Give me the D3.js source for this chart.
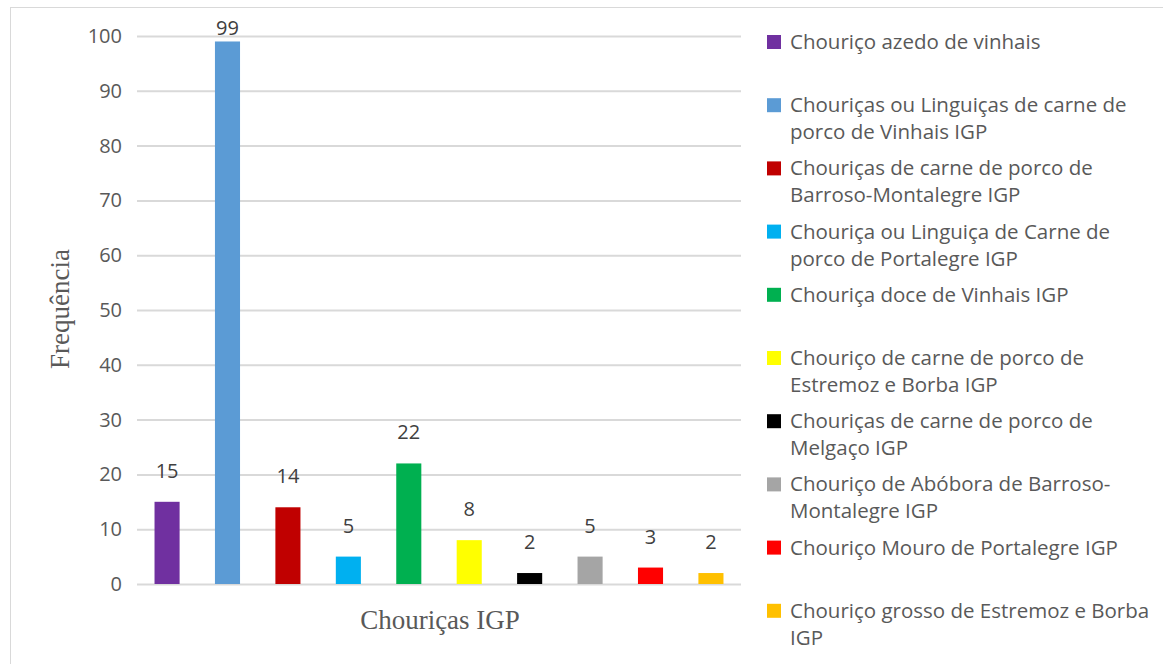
<!DOCTYPE html>
<html>
<head>
<meta charset="utf-8">
<script src="https://cdn.jsdelivr.net/npm/d3@7"></script>
<style>
  body { margin: 0; background: #fff; }
  svg { display: block; }
</style>
</head>
<body>
<svg id="chart" width="1163" height="664"></svg>
<script>
// data
const categories = [
  "Chouriço azedo de vinhais",
  "Chouriças ou Linguiças de carne de\nporco de Vinhais IGP",
  "Chouriças de carne de porco de\nBarroso-Montalegre IGP",
  "Chouriça ou Linguiça de Carne de\nporco de Portalegre IGP",
  "Chouriça doce de Vinhais IGP",
  "Chouriço de carne de porco de\nEstremoz e Borba IGP",
  "Chouriças de carne de porco de\nMelgaço IGP",
  "Chouriço de Abóbora de Barroso-\nMontalegre IGP",
  "Chouriço Mouro de Portalegre IGP",
  "Chouriço grosso de Estremoz e Borba\nIGP"
];
const values = [15, 99, 14, 5, 22, 8, 2, 5, 3, 2];
const colors = ["#7030a0", "#5b9bd5", "#c00000", "#00b0f0", "#00b050",
                "#ffff00", "#000000", "#a5a5a5", "#ff0000", "#ffc000"];
const yTicks = [0, 10, 20, 30, 40, 50, 60, 70, 80, 90, 100];

const svg = d3.select("#chart");
const sans = "'Open Sans', sans-serif";
const serif = "'Liberation Serif', 'Times New Roman', serif";
const textColor = "#595959";

// chart border
svg.append("rect")
  .attr("x", 10.5).attr("y", 7.5)
  .attr("width", 1160).attr("height", 670)
  .attr("fill", "none").attr("stroke", "#d9d9d9");

const margin = { left: 137, right: 741, top: 36, bottom: 584 };

const x = d3.scaleBand()
  .domain(d3.range(categories.length))
  .range([margin.left, margin.right])
  .paddingInner(0.585).paddingOuter(0.29);

const y = d3.scaleLinear().domain([0, 100]).range([margin.bottom, margin.top]);

// gridlines + tick labels
const yAxis = d3.axisLeft(y).tickValues(yTicks)
  .tickSize(-(margin.right - margin.left)).tickPadding(15);
const gy = svg.append("g")
  .attr("transform", `translate(${margin.left},0)`)
  .call(yAxis);
gy.select(".domain").remove();
gy.selectAll(".tick line").attr("stroke", "#d9d9d9").attr("stroke-width", 2);
gy.selectAll(".tick text")
  .attr("fill", textColor).style("font-family", sans).style("font-size", "20px");

// bars
svg.append("g").selectAll("rect")
  .data(values)
  .join("rect")
  .attr("x", (d, i) => x(i))
  .attr("y", d => y(d))
  .attr("width", x.bandwidth())
  .attr("height", d => y(0) - y(d))
  .attr("fill", (d, i) => colors[i]);

// value labels
svg.append("g").selectAll("text")
  .data(values)
  .join("text")
  .attr("x", (d, i) => x(i) + x.bandwidth() / 2)
  .attr("y", d => Math.max(y(d) - 24, 35))
  .attr("text-anchor", "middle")
  .attr("fill", "#404040")
  .style("font-family", sans).style("font-size", "20px")
  .text(d => d);

// axis titles
svg.append("text")
  .attr("transform", `translate(69,309) rotate(-90)`)
  .attr("text-anchor", "middle")
  .attr("fill", textColor)
  .style("font-family", serif).style("font-size", "27px")
  .text("Frequência");

svg.append("text")
  .attr("x", 440).attr("y", 629)
  .attr("text-anchor", "middle")
  .attr("fill", textColor)
  .style("font-family", serif).style("font-size", "27px")
  .text("Chouriças IGP");

// legend
const legend = svg.append("g").attr("transform", "translate(767,0)");
const item = legend.selectAll("g")
  .data(categories)
  .join("g")
  .attr("transform", (d, i) => `translate(0,${42 + i * 63.2})`);

item.append("rect")
  .attr("x", 0).attr("y", -7)
  .attr("width", 14).attr("height", 14)
  .attr("fill", (d, i) => colors[i]);

item.append("text")
  .attr("fill", textColor)
  .style("font-family", sans).style("font-size", "20.5px")
  .selectAll("tspan")
  .data(d => d.split("\n"))
  .join("tspan")
  .attr("x", 23)
  .attr("y", (d, j) => 7 + j * 27)
  .text(d => d);
</script>
</body>
</html>
